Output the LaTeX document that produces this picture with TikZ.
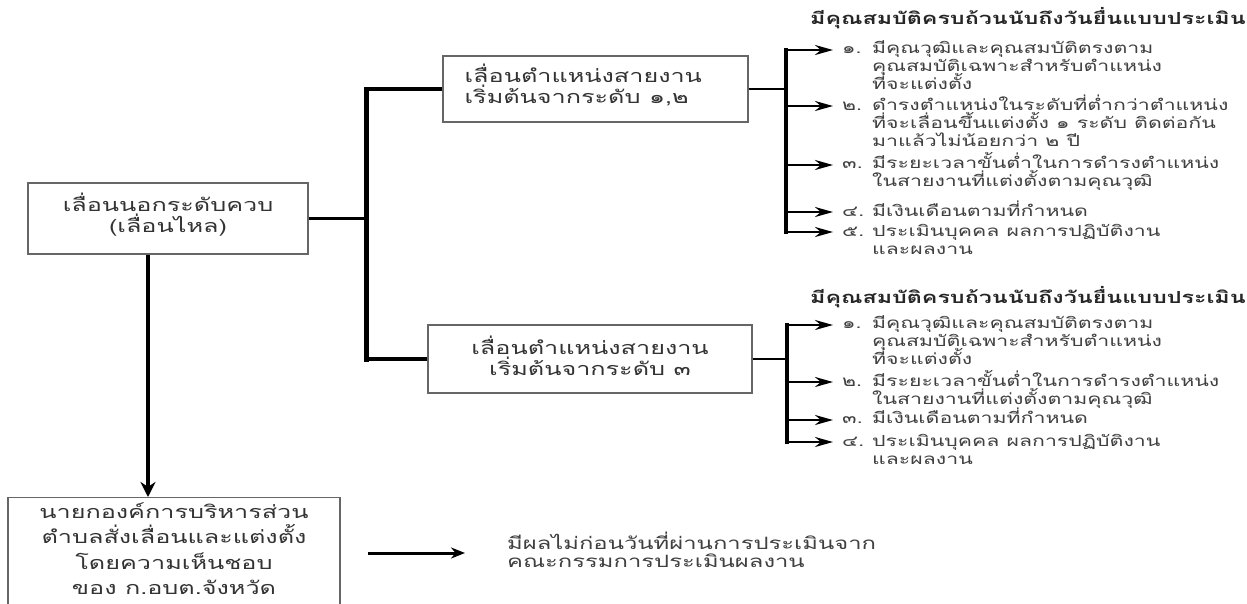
\documentclass[tikz,border=0pt]{standalone}
\usepackage{fontspec}
\newfontfamily\thaifont[Script=Thai,FakeStretch=1.4]{Loma}
\usetikzlibrary{arrows.meta}
\newcommand\fixskip{\lineskiplimit=-100pt\lineskip=0pt}
\newcommand\itemfont{\thaifont\fontsize{15.2}{18}\selectfont\fixskip}
\newcommand\headfont{\thaifont\bfseries\fontsize{16.6}{18}\selectfont\fixskip}
\newcommand\resfont{\thaifont\fontsize{17}{18}\selectfont\fixskip}
\newcommand\boxfont{\thaifont\fontsize{18}{21}\selectfont\fixskip}
\newcommand\nboxfont{\thaifont\fontsize{18}{25.5}\selectfont\fixskip}
\begin{document}
\begin{tikzpicture}[x=1pt,y=-1pt,
  box/.style={draw=black!60, line width=1.2pt, inner sep=0pt},
  boxtext/.style={font=\boxfont, text=black!80, inner sep=0pt, align=center},
  conn/.style={line width=4pt, black},
  trunk/.style={line width=5pt, black, line cap=rect},
  thin/.style={line width=2.2pt, black},
  bar/.style={line width=4pt, black, line cap=rect},
  arr/.style={line width=4.5pt, black, -{Stealth[length=15pt,width=15pt]}},
  rarr/.style={line width=3pt, black, -{Stealth[length=14pt,width=11pt]}},
  sarr/.style={line width=2.5pt, black, -{Stealth[length=18pt,width=10pt]}},
  num/.style={font=\itemfont, text=black!75, inner sep=0pt, anchor=west},
  item/.style={font=\itemfont, text=black!75, align=left, inner sep=0pt, anchor=base west},
  head/.style={font=\headfont, text=black!85, inner sep=0pt, anchor=west}]
\useasboundingbox (0,0) rectangle (1247,603);
\clip (0,0) rectangle (1247,603);
\fill[white] (0,0) rectangle (1247,603);

% main boxes
\node[box, minimum width=280pt, minimum height=71pt] (L) at (168,218.5) {};
\node[boxtext] (Lt) at ([yshift=4pt]L.center) {เลื่อนนอกระดับควบ\\(เลื่อนไหล)};
\node[box, minimum width=305pt, minimum height=66pt] (T) at (595.5,89) {};
\node[boxtext, align=left, anchor=west] (Tt) at ([xshift=22pt,yshift=4pt]T.west) {เลื่อนตำแหน่งสายงาน\\เริ่มต้นจากระดับ ๑,๒};
\node[box, minimum width=324pt, minimum height=68pt] (B) at (590,359) {};
\node[boxtext] (Bt) at ([yshift=3pt]B.center) {เลื่อนตำแหน่งสายงาน\\เริ่มต้นจากระดับ ๓};
\node[box, minimum width=332pt, minimum height=108pt, anchor=north] (N) at (174,497) {};
\node[boxtext, font=\nboxfont] (Nt) at ([yshift=3pt]N.center) {นายกองค์การบริหารส่วน\\ตำบลสั่งเลื่อนและแต่งตั้ง\\โดยความเห็นชอบ\\ของ ก.อบต.จังหวัด};

% connectors from the left box
\coordinate (j) at (366,218.5);
\draw[line width=3pt] (L.east) -- (j);
\draw[trunk] (T.west -| j) -- (B.west -| j);
\draw[conn] (T.west) -- (T.west -| j);
\draw[conn] (B.west) -- (B.west -| j);
\draw[arr] ([xshift=-20pt]L.south) -- ([xshift=-20pt]L.south |- N.north);

% top group
\node[head] (h1) at (810,18) {มีคุณสมบัติครบถ้วนนับถึงวันยื่นแบบประเมิน};
\node[num] (n11) at (842,50) {๑.};
\node[num] (n12) at (842,106) {๒.};
\node[num] (n13) at (842,165) {๓.};
\node[num] (n14) at (842,212) {๔.};
\node[num] (n15) at (842,232) {๕.};
\node[item] (t11) at ([xshift=30pt,yshift=-36pt]n11.base west) {มีคุณวุฒิและคุณสมบัติตรงตาม\\คุณสมบัติเฉพาะสำหรับตำแหน่ง\\ที่จะแต่งตั้ง};
\node[item] (t12) at ([xshift=30pt,yshift=-36pt]n12.base west) {ดำรงตำแหน่งในระดับที่ต่ำกว่าตำแหน่ง\\ที่จะเลื่อนขึ้นแต่งตั้ง ๑ ระดับ ติดต่อกัน\\มาแล้วไม่น้อยกว่า ๒ ปี};
\node[item] (t13) at ([xshift=30pt,yshift=-18pt]n13.base west) {มีระยะเวลาขั้นต่ำในการดำรงตำแหน่ง\\ในสายงานที่แต่งตั้งตามคุณวุฒิ};
\node[item] (t14) at ([xshift=30pt]n14.base west) {มีเงินเดือนตามที่กำหนด};
\node[item] (t15) at ([xshift=30pt,yshift=-18pt]n15.base west) {ประเมินบุคคล ผลการปฏิบัติงาน\\และผลงาน};
\coordinate (s11) at (786,50);
\coordinate (s12) at (786,106);
\coordinate (s13) at (786,165);
\coordinate (s14) at (786,212);
\coordinate (s15) at (786,232);
\draw[thin] (T.east) -- (T.east -| s11);
\draw[bar] (s11) -- (s15);
\foreach \i in {1,...,5} \draw[sarr] (s1\i) -- ([xshift=-9pt]n1\i.west);

% bottom group
\node[head] (h2) at (810,297) {มีคุณสมบัติครบถ้วนนับถึงวันยื่นแบบประเมิน};
\node[num] (n21) at (842,325) {๑.};
\node[num] (n22) at (842,382) {๒.};
\node[num] (n23) at (842,420) {๓.};
\node[num] (n24) at (842,442) {๔.};
\node[item] (t21) at ([xshift=30pt,yshift=-36pt]n21.base west) {มีคุณวุฒิและคุณสมบัติตรงตาม\\คุณสมบัติเฉพาะสำหรับตำแหน่ง\\ที่จะแต่งตั้ง};
\node[item] (t22) at ([xshift=30pt,yshift=-18pt]n22.base west) {มีระยะเวลาขั้นต่ำในการดำรงตำแหน่ง\\ในสายงานที่แต่งตั้งตามคุณวุฒิ};
\node[item] (t23) at ([xshift=30pt]n23.base west) {มีเงินเดือนตามที่กำหนด};
\node[item] (t24) at ([xshift=30pt,yshift=-18pt]n24.base west) {ประเมินบุคคล ผลการปฏิบัติงาน\\และผลงาน};
\coordinate (s21) at (787,325);
\coordinate (s22) at (787,382);
\coordinate (s23) at (787,420);
\coordinate (s24) at (787,442);
\draw[thin] (B.east) -- (B.east -| s21);
\draw[bar] (s21) -- (s24);
\foreach \i in {1,...,4} \draw[sarr] (s2\i) -- ([xshift=-9pt]n2\i.west);

% result arrow
\node[item, font=\resfont, anchor=west] (r) at (507,550) {มีผลไม่ก่อนวันที่ผ่านการประเมินจาก\\คณะกรรมการประเมินผลงาน};
\coordinate (ra) at (368,553);
\draw[rarr] (ra) -- ([xshift=-42pt]r.west |- ra);
\end{tikzpicture}
\end{document}
